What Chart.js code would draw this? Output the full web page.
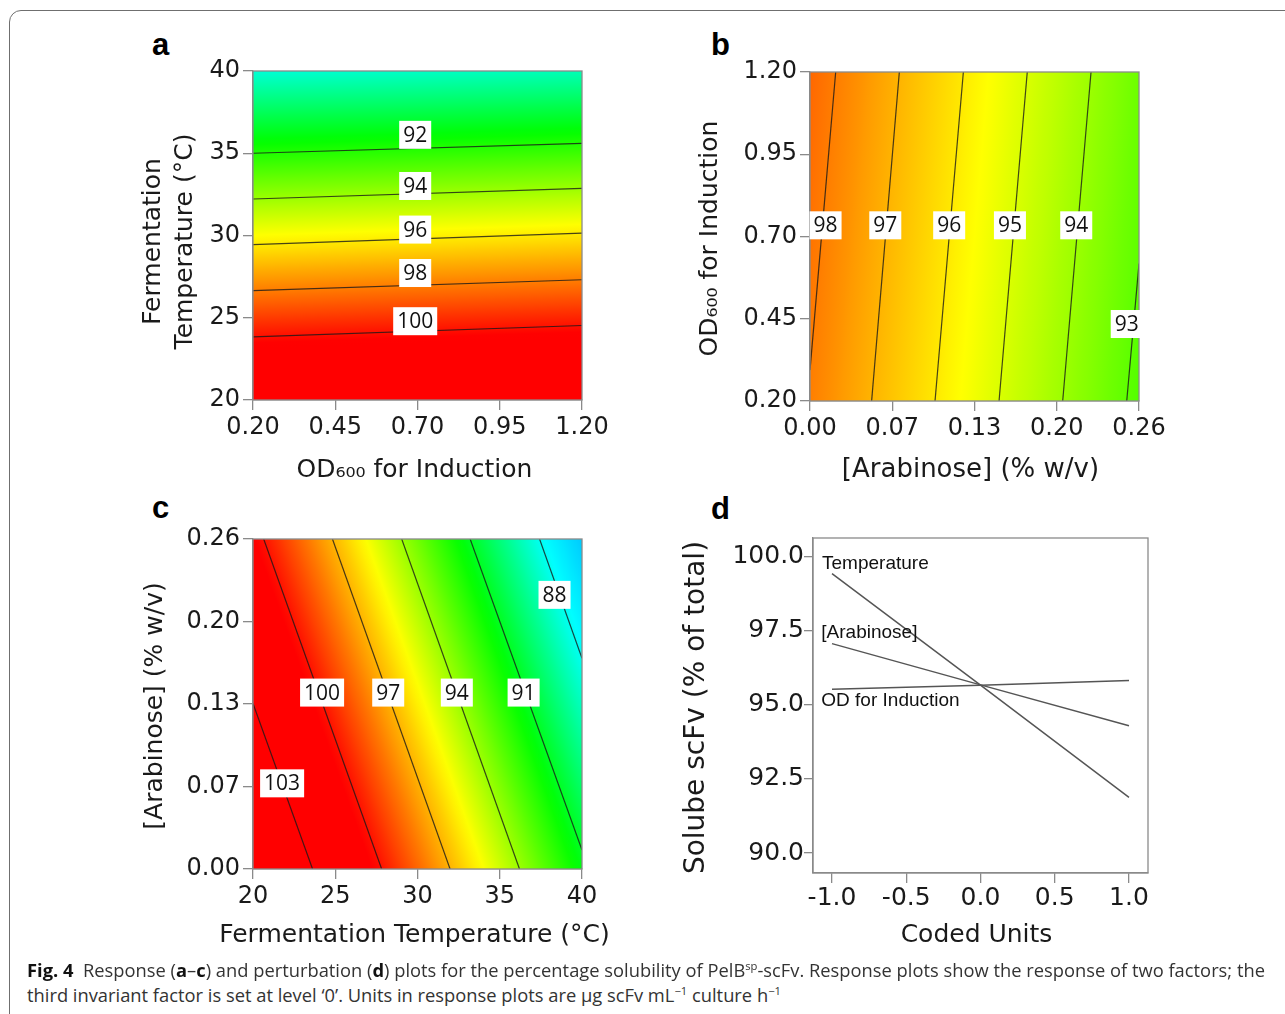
<!DOCTYPE html>
<html>
<head>
<meta charset="utf-8">
<script src="https://cdn.jsdelivr.net/npm/chart.js@4.4.1/dist/chart.umd.min.js"></script>
<style>
html, body { margin: 0; padding: 0; background: #fff; width: 1285px; height: 1014px; overflow: hidden; position: relative; }
.frame { position: absolute; left: 9px; top: 10px; width: 1400px; height: 1100px; border: 1.5px solid #6f6f6f; border-radius: 12px; }
.panel { position: absolute; }
.letter { position: absolute; font: bold 31px 'Liberation Sans', Arial, sans-serif; line-height: 31px; color: #000; }
.caption { position: absolute; left: 27px; font-family: 'Open Sans', sans-serif; font-size: 18px; color: #333; white-space: nowrap; transform-origin: 0 50%; line-height: 22px; }
.caption b { color: #111; }
.caption sup { font-size: 11px; vertical-align: 7px; line-height: 0; }
</style>
</head>
<body>
<div class="frame"></div>

<div class="letter" style="left:152px; top:29px;">a</div>
<div class="letter" style="left:711px; top:29px;">b</div>
<div class="letter" style="left:152px; top:492px;">c</div>
<div class="letter" style="left:711px; top:493px;">d</div>

<canvas class="panel" id="chartA" width="500" height="480" style="left:130px; top:20px;"></canvas>
<canvas class="panel" id="chartB" width="500" height="480" style="left:680px; top:20px;"></canvas>
<canvas class="panel" id="chartC" width="500" height="470" style="left:130px; top:490px;"></canvas>
<canvas class="panel" id="chartD" width="520" height="470" style="left:660px; top:490px;"></canvas>

<div class="caption" id="cap1" style="top:959px;"><b>Fig. 4</b>&nbsp; Response (<b>a</b>–<b>c</b>) and perturbation (<b>d</b>) plots for the percentage solubility of PelB<sup>sp</sup>-scFv. Response plots show the response of two factors; the</div>
<div class="caption" id="cap2" style="top:984px;">third invariant factor is set at level ‘0’. Units in response plots are μg scFv mL<sup>−1</sup> culture h<sup>−1</sup></div>

<script>
// Panel a: OD600 (x) vs fermentation temperature (y)
const aXTicks = [0.20, 0.45, 0.70, 0.95, 1.20];
const aXLabels = ['0.20', '0.45', '0.70', '0.95', '1.20'];
const aYTicks = [20, 25, 30, 35, 40];
const aYLabels = ['20', '25', '30', '35', '40'];
const aLevels = [92, 94, 96, 98, 100];
const aLines = [
    [[0.20, 35.00], [1.20, 35.60]],
    [[0.20, 32.22], [1.20, 32.87]],
    [[0.20, 29.44], [1.20, 30.14]],
    [[0.20, 26.65], [1.20, 27.31]],
    [[0.20, 23.84], [1.20, 24.53]]
];
const aLabelPos = [[0.693, 36.12], [0.693, 33.01], [0.693, 30.36], [0.693, 27.72], [0.693, 24.79]];

// Panel b: arabinose (x) vs OD600 (y)
const bXTicks = [0, 0.065, 0.13, 0.195, 0.26];
const bXLabels = ['0.00', '0.07', '0.13', '0.20', '0.26'];
const bYTicks = [0.20, 0.45, 0.70, 0.95, 1.20];
const bYLabels = ['0.20', '0.45', '0.70', '0.95', '1.20'];
const bLevels = [98, 97, 96, 95, 94, 93];
const bLines = [
    [[0.0203, 1.20], [0.0000, 0.294]],
    [[0.0706, 1.20], [0.0487, 0.20]],
    [[0.1212, 1.20], [0.0988, 0.20]],
    [[0.1717, 1.20], [0.1494, 0.20]],
    [[0.2221, 1.20], [0.1997, 0.20]],
    [[0.2600, 0.618], [0.2503, 0.20]]
];
const bLabelPos = [[0.0123, 0.734], [0.0595, 0.734], [0.110, 0.734], [0.158, 0.734], [0.2104, 0.734], [0.2503, 0.434]];

// Panel c: temperature (x) vs arabinose (y)
const cXTicks = [20, 25, 30, 35, 40];
const cXLabels = ['20', '25', '30', '35', '40'];
const cYTicks = [0, 0.065, 0.13, 0.195, 0.26];
const cYLabels = ['0.00', '0.07', '0.13', '0.20', '0.26'];
const cLevels = [103, 100, 97, 94, 91, 88];
const cLines = [
    [[20.00, 0.1305], [23.62, 0]],
    [[20.65, 0.26], [27.82, 0]],
    [[24.83, 0.26], [31.98, 0]],
    [[29.04, 0.26], [36.20, 0]],
    [[33.20, 0.26], [40.00, 0.015]],
    [[37.42, 0.26], [40.00, 0.166]]
];
const cLabelPos = [[21.77, 0.0675], [24.20, 0.139], [28.22, 0.139], [32.39, 0.139], [36.45, 0.139], [38.33, 0.216]];

// Panel d: perturbation plot
const dXTicks = [-1, -0.5, 0, 0.5, 1];
const dXLabels = ['-1.0', '-0.5', '0.0', '0.5', '1.0'];
const dYTicks = [90, 92.5, 95, 97.5, 100];
const dYLabels = ['90.0', '92.5', '95.0', '97.5', '100.0'];
const dCoded = [-1, 0, 1];
const dTemperature = [99.42, 95.66, 91.88];
const dArabinose = [97.06, 95.67, 94.29];
const dOD = [95.52, 95.66, 95.82];
const dNames = ['Temperature', '[Arabinose]', 'OD for Induction'];
const dLabelPos = [[-1.067, 99.76], [-1.072, 97.44], [-1.072, 95.13]];

// response colour scale (blue -> cyan -> green -> yellow -> red)
const colorScale = [
    [80, [0, 0, 255]],
    [87.8, [0, 255, 255]],
    [91.5, [0, 255, 0]],
    [95.6, [255, 255, 0]],
    [100.3, [255, 0, 0]]
];

const DEJAVU = "'DejaVu Sans', Verdana, sans-serif";
const tickFont = { family: DEJAVU, size: 24 };
const AXIS_GREY = '#8a8a8a';

function levelColor(v) {
    const first = colorScale[0], last = colorScale[colorScale.length - 1];
    if (v <= first[0]) return `rgb(${first[1].join(',')})`;
    if (v >= last[0]) return `rgb(${last[1].join(',')})`;
    for (let i = 1; i < colorScale.length; i++) {
        if (v <= colorScale[i][0]) {
            const [v0, c0] = colorScale[i - 1];
            const [v1, c1] = colorScale[i];
            const t = (v - v0) / (v1 - v0);
            const c = c0.map((ch, k) => Math.round(ch + (c1[k] - ch) * t));
            return `rgb(${c.join(',')})`;
        }
    }
}

// paints the coloured response surface behind the contour lines
const surfacePlugin = {
    id: 'surface',
    beforeDatasetsDraw(chart) {
        const { ctx, chartArea: ca, scales: { x, y } } = chart;
        const segs = chart.data.datasets.map(ds => ({
            p0: { x: x.getPixelForValue(ds.data[0].x), y: y.getPixelForValue(ds.data[0].y) },
            p1: { x: x.getPixelForValue(ds.data[1].x), y: y.getPixelForValue(ds.data[1].y) },
            level: ds.level
        }));

        // mean contour direction, then its normal
        let dx = 0, dy = 0;
        segs.forEach(s => {
            let ux = s.p1.x - s.p0.x, uy = s.p1.y - s.p0.y;
            const len = Math.hypot(ux, uy);
            ux /= len; uy /= len;
            if (ux * dx + uy * dy < 0) { ux = -ux; uy = -uy; }
            dx += ux; dy += uy;
        });
        const dl = Math.hypot(dx, dy);
        dx /= dl; dy /= dl;
        const nx = -dy, ny = dx;

        // level as a linear function of position along the normal
        const pts = segs.map(s => ({
            s: ((s.p0.x + s.p1.x) / 2) * nx + ((s.p0.y + s.p1.y) / 2) * ny,
            v: s.level
        }));
        const ms = pts.reduce((a, p) => a + p.s, 0) / pts.length;
        const mv = pts.reduce((a, p) => a + p.v, 0) / pts.length;
        let num = 0, den = 0;
        pts.forEach(p => { num += (p.s - ms) * (p.v - mv); den += (p.s - ms) ** 2; });
        const b = num / den, a = mv - b * ms;

        const corners = [[ca.left, ca.top], [ca.right, ca.top], [ca.left, ca.bottom], [ca.right, ca.bottom]]
            .map(c => c[0] * nx + c[1] * ny);
        const sMin = Math.min(...corners), sMax = Math.max(...corners);

        const grad = ctx.createLinearGradient(nx * sMin, ny * sMin, nx * sMax, ny * sMax);
        const steps = 60;
        for (let i = 0; i <= steps; i++) {
            const t = i / steps;
            grad.addColorStop(t, levelColor(a + b * (sMin + t * (sMax - sMin))));
        }
        ctx.save();
        ctx.fillStyle = grad;
        ctx.fillRect(ca.left, ca.top, ca.width, ca.height);
        ctx.restore();
    }
};

// grey box round the plot area
const framePlugin = {
    id: 'frame',
    afterDatasetsDraw(chart) {
        const { ctx, chartArea: ca } = chart;
        ctx.save();
        ctx.strokeStyle = AXIS_GREY;
        ctx.lineWidth = 1.3;
        ctx.strokeRect(ca.left, ca.top, ca.width, ca.height);
        ctx.restore();
    }
};

// contour value tags / series names
const tagPlugin = {
    id: 'tags',
    afterDatasetsDraw(chart, args, opts) {
        const { ctx, scales: { x, y } } = chart;
        ctx.save();
        ctx.font = opts.font;
        ctx.textBaseline = 'middle';
        opts.items.forEach(item => {
            const px = x.getPixelForValue(item.x);
            const py = y.getPixelForValue(item.y);
            const w = ctx.measureText(item.text).width;
            if (opts.box) {
                ctx.fillStyle = '#fff';
                ctx.fillRect(px - w / 2 - 4, py - 14, w + 8, 28);
                ctx.fillStyle = '#111';
                ctx.textAlign = 'center';
                ctx.fillText(item.text, px, py + 1);
            } else {
                ctx.fillStyle = '#111';
                ctx.textAlign = 'left';
                ctx.fillText(item.text, px, py);
            }
        });
        ctx.restore();
    }
};

// axis titles drawn at full width (Chart.js squeezes long titles to the axis length)
const axisTitlePlugin = {
    id: 'axisTitles',
    afterDraw(chart, args, opts) {
        const { ctx, chartArea: ca } = chart;
        ctx.save();
        ctx.fillStyle = '#1a1a1a';
        ctx.textAlign = 'center';
        ctx.textBaseline = 'middle';
        const xt = opts.x;
        ctx.font = `${xt.size}px ${DEJAVU}`;
        ctx.fillText(xt.text, (ca.left + ca.right) / 2 + (xt.dx || 0), xt.y);
        const yt = opts.y;
        ctx.font = `${yt.size}px ${DEJAVU}`;
        ctx.translate(yt.x, (ca.top + ca.bottom) / 2 + (yt.dy || 0));
        ctx.rotate(-Math.PI / 2);
        [].concat(yt.text).forEach((line, i) => ctx.fillText(line, 0, i * (yt.gap || 0)));
        ctx.restore();
    }
};

function makeAxis(o) {
    return {
        type: 'linear',
        min: o.min,
        max: o.max,
        afterBuildTicks: s => { s.ticks = o.ticks.map(v => ({ value: v })); },
        afterFit: s => { if (s.isHorizontal()) s.height = o.size; else s.width = o.size; },
        ticks: {
            callback: (v, i) => o.labels[i],
            font: o.font || tickFont,
            color: '#1a1a1a',
            padding: o.tickPad ?? 3,
            maxRotation: 0,
            minRotation: 0,
            autoSkip: false
        },
        grid: { drawOnChartArea: false, drawTicks: true, tickLength: o.tickLength ?? 10, color: AXIS_GREY, lineWidth: 1.3 },
        border: { display: true, color: AXIS_GREY, width: 1.3 },
        title: { display: false }
    };
}

function contourChart(id, cfg) {
    return new Chart(document.getElementById(id), {
        type: 'line',
        data: {
            datasets: cfg.lines.map((pts, i) => ({
                level: cfg.levels[i],
                data: pts.map(p => ({ x: p[0], y: p[1] })),
                borderColor: 'rgba(25,25,25,0.8)',
                borderWidth: 1.2,
                pointRadius: 0,
                tension: 0,
                fill: false
            }))
        },
        options: {
            responsive: false,
            animation: false,
            events: [],
            layout: { padding: cfg.padding },
            plugins: {
                legend: { display: false },
                tooltip: { enabled: false },
                tags: {
                    box: true,
                    font: "21px 'Open Sans', sans-serif",
                    items: cfg.labelPos.map((p, i) => ({ x: p[0], y: p[1], text: String(cfg.levels[i]) }))
                },
                axisTitles: cfg.titles
            },
            scales: { x: makeAxis(cfg.x), y: makeAxis(cfg.y) }
        },
        plugins: [surfacePlugin, framePlugin, tagPlugin, axisTitlePlugin]
    });
}

contourChart('chartA', {
    lines: aLines, levels: aLevels, labelPos: aLabelPos,
    padding: { left: 0, top: 51, right: 48, bottom: 0 },
    x: { min: 0.2, max: 1.2, ticks: aXTicks, labels: aXLabels, size: 100 },
    y: { min: 20, max: 40, ticks: aYTicks, labels: aYLabels, size: 123 },
    titles: {
        x: { text: 'OD₆₀₀ for Induction', size: 25, y: 450, dx: -3 },
        y: { text: ['Fermentation', 'Temperature (°C)'], size: 25, x: 23, gap: 32, dy: 6 }
    }
});

contourChart('chartB', {
    lines: bLines, levels: bLevels, labelPos: bLabelPos,
    padding: { left: 0, top: 52, right: 41, bottom: 0 },
    x: { min: 0, max: 0.26, ticks: bXTicks, labels: bXLabels, size: 99 },
    y: { min: 0.2, max: 1.2, ticks: bYTicks, labels: bYLabels, size: 130 },
    titles: {
        x: { text: '[Arabinose] (% w/v)', size: 26, y: 450, dx: -4 },
        y: { text: 'OD₆₀₀ for Induction', size: 25, x: 30, dy: 2 }
    }
});

contourChart('chartC', {
    lines: cLines, levels: cLevels, labelPos: cLabelPos,
    padding: { left: 0, top: 49, right: 48, bottom: 0 },
    x: { min: 20, max: 40, ticks: cXTicks, labels: cXLabels, size: 91 },
    y: { min: 0, max: 0.26, ticks: cYTicks, labels: cYLabels, size: 123 },
    titles: {
        x: { text: 'Fermentation Temperature (°C)', size: 25, y: 445, dx: -3 },
        y: { text: '[Arabinose] (% w/v)', size: 25, x: 25, dy: 2 }
    }
});

// Perturbation plot
const dFont = { family: DEJAVU, size: 25 };
new Chart(document.getElementById('chartD'), {
    type: 'line',
    data: {
        datasets: [dTemperature, dArabinose, dOD].map((vals, i) => ({
            label: dNames[i],
            data: dCoded.map((x, k) => ({ x, y: vals[k] })),
            borderColor: '#555',
            borderWidth: 1.5,
            pointRadius: 0,
            tension: 0,
            fill: false
        }))
    },
    options: {
        responsive: false,
        animation: false,
        events: [],
        layout: { padding: { left: 0, top: 48, right: 32, bottom: 0 } },
        plugins: {
            legend: { display: false },
            tooltip: { enabled: false },
            tags: {
                box: false,
                font: "19px 'Liberation Sans', Arial, sans-serif",
                items: dLabelPos.map((p, i) => ({ x: p[0], y: p[1], text: dNames[i] }))
            },
            axisTitles: {
                x: { text: 'Coded Units', size: 25, y: 445, dx: -4 },
                y: { text: 'Solube scFv (% of total)', size: 28, x: 37, dy: 2 }
            }
        },
        scales: {
            x: makeAxis({ min: -1.128, max: 1.128, ticks: dXTicks, labels: dXLabels, size: 87, font: dFont, tickPad: 0 }),
            y: makeAxis({ min: 89.33, max: 100.62, ticks: dYTicks, labels: dYLabels, size: 153, font: dFont, tickPad: 0, tickLength: 9 })
        }
    },
    plugins: [framePlugin, tagPlugin, axisTitlePlugin]
});

// squeeze the caption lines to the width of the printed caption
function fitCaption() {
    const l1 = document.getElementById('cap1');
    const l2 = document.getElementById('cap2');
    const k = 1238 / l1.getBoundingClientRect().width;
    l1.style.transform = `scaleX(${k})`;
    l2.style.transform = `scaleX(${k})`;
}
fitCaption();
</script>
</body>
</html>
